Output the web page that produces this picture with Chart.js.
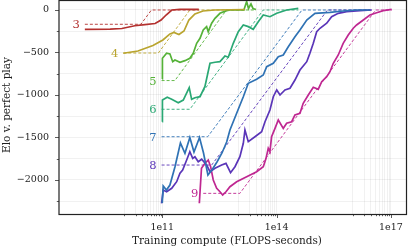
<!DOCTYPE html>
<html>
<head>
<meta charset="utf-8">
<script src="https://cdn.jsdelivr.net/npm/chart.js@4.4.1/dist/chart.umd.min.js"></script>
<style>
  html, body { margin: 0; padding: 0; background: #fff; }
  #wrap { width: 408px; height: 248px; position: relative; }
</style>
</head>
<body>
<div id="wrap"><canvas id="chart"></canvas></div>
<script>
const boardSizes = ['3', '4', '5', '6', '7', '8', '9'];
const colors = ['#b3302e', '#b9a42e', '#55b238', '#2aa874', '#2f72b4', '#5a35b8', '#bf2791'];

// training runs (compute in FLOPS-seconds, Elo v. perfect play)
const compute3 = [9.3e8, 4.3e9, 8.7e9, 1.9e10, 3.5e10, 6.5e10, 9.3e10, 1.26e11, 1.78e11, 2.9e11, 9.1e11];
const elo3 = [-227, -224, -218, -185, -173, -159, -118, -59, 0, 8, 8];
const compute4 = [9.5e9, 2.3e10, 5.7e10, 1.04e11, 1.59e11, 2.03e11, 2.74e11, 3.72e11, 5.0e11, 7.2e11, 1.17e12, 2.4e12, 1.48e13];
const elo4 = [-509, -482, -418, -353, -282, -265, -288, -247, -118, -47, -12, 0, 6];
const compute5 = [1.0e11, 1.01e11, 1.3e11, 1.59e11, 1.88e11, 2.15e11, 2.92e11, 3.94e11, 5.3e11, 6.5e11, 8.0e11, 9.8e11, 1.19e12,
  1.46e12, 1.61e12, 1.98e12, 2.42e12, 3.27e12, 4.9e12, 5.98e12, 1.39e13, 1.64e13, 1.83e13, 2.13e13, 2.4e13, 2.88e13];
const elo5 = [-812, -568, -509, -518, -608, -588, -615, -596, -568, -509, -392, -333, -235,
  -196, -255, -156, -98, -39, -8, 0, 0, 100, 18, 71, 18, 6];
const compute6 = [1.0e11, 1.01e11, 1.35e11, 1.77e11, 2.63e11, 3.56e11, 5.1e11, 5.9e11, 7.2e11, 9.8e11, 1.32e12, 1.79e12, 2.42e12,
  3.27e12, 4.43e12, 5.4e12, 7.3e12, 9.9e12, 1.34e13, 1.81e13, 2.44e13, 3.31e13, 4.48e13, 6.7e13, 1.01e14, 1.84e14, 3.72e14];
const elo6 = [-1314, -1059, -1027, -1051, -1091, -1059, -914, -1051, -1032, -1020, -899, -627, -615,
  -608, -541, -556, -392, -255, -176, -196, -227, -138, -59, -79, -39, 0, 20];
const compute7 = [1.0e11, 1.06e11, 1.29e11, 1.59e11, 2.15e11, 3.0e11, 3.94e11, 5.3e11, 6.8e11, 9.5e11, 1.21e12, 1.58e12, 2.01e12,
  2.73e12, 3.69e12, 4.9e12, 5.98e12, 8.97e12, 1.34e13, 1.81e13, 3.0e13, 4.48e13, 5.5e13, 8.2e13, 1.11e14, 1.5e14,
  2.03e14, 3.04e14, 4.11e14, 6.2e14, 1.02e15, 2.52e15, 5.6e15, 1.26e16, 2.82e16];
const elo7 = [-2271, -2071, -2118, -2059, -1847, -1565, -1686, -1500, -1671, -1500, -1682, -1941, -1882,
  -1788, -1682, -1553, -1412, -1215, -1020, -862, -815, -765, -667, -627, -549, -529,
  -432, -314, -235, -118, -39, -27, -12, 0, 0];
const compute8 = [9.6e10, 1.06e11, 1.3e11, 1.77e11, 2.39e11, 2.92e11, 3.43e11, 4.37e11, 5.3e11, 6.3e11, 7.2e11, 8.8e11, 1.08e12,
  1.46e12, 1.79e12, 2.42e12, 3.62e12, 4.7e12, 6.2e12, 8.1e12, 1.09e13, 1.34e13, 1.48e13, 1.81e13, 2.71e13, 4.06e13,
  4.97e13, 6.7e13, 8.2e13, 1.01e14, 1.23e14, 1.66e14, 2.25e14, 3.04e14, 4.11e14, 6.2e14, 7.5e14, 9.2e14, 1.13e15,
  1.38e15, 2.07e15, 2.79e15, 4.16e15, 6.9e15, 1.55e16, 3.13e16];
const elo8 = [-2274, -2118, -2138, -2098, -2020, -1921, -1882, -1765, -1667, -1745, -1726, -1785, -1756,
  -1824, -1902, -1863, -1824, -1804, -1914, -1844, -1726, -1568, -1412, -1549, -1491, -1432,
  -1314, -1176, -1020, -941, -1000, -941, -921, -824, -706, -608, -509, -392, -255,
  -215, -156, -79, -39, -20, -8, 0];
const compute9 = [9.4e11, 1.07e12, 1.32e12, 1.61e12, 1.86e12, 2.18e12, 2.68e12, 3.27e12, 3.85e12, 4.7e12, 5.98e12, 8.97e12, 1.64e13,
  3.0e13, 4.48e13, 5.3e13, 6.05e13, 6.7e13, 7.4e13, 9.1e13, 1.11e14, 1.5e14, 1.84e14, 2.49e14, 3.04e14, 4.11e14,
  5.0e14, 6.8e14, 9.2e14, 1.24e15, 1.53e15, 2.07e15, 2.52e15, 3.08e15, 4.16e15, 5.6e15, 7.6e15, 1.03e16, 1.26e16,
  1.89e16, 2.82e16, 4.24e16, 6.3e16, 1.05e17];
const elo9 = [-2274, -1862, -1804, -1765, -1843, -2000, -2098, -2138, -2177, -2138, -2079, -2020, -1961,
  -1902, -1843, -1745, -1627, -1667, -1491, -1392, -1294, -1392, -1333, -1314, -1235, -1215,
  -1098, -1000, -909, -933, -843, -785, -726, -627, -529, -392, -294, -215, -176,
  -118, -59, -32, -8, 8];

// fitted frontiers (dashed)
const fitCompute3 = [9.3e8, 2.75e10, 5.2e10, 9.1e11];
const fitElo3 = [-168, -168, 0, 0];
const fitCompute4 = [9.5e9, 7.9e10, 5.3e11, 1.48e13];
const fitElo4 = [-506, -506, 0, 0];
const fitCompute5 = [9.6e10, 2.15e11, 4.84e12, 2.88e13];
const fitElo5 = [-830, -830, 0, 0];
const fitCompute6 = [9.6e10, 5.3e11, 4.48e13, 3.72e14];
const fitElo6 = [-1168, -1168, 0, 0];
const fitCompute7 = [9.6e10, 1.56e12, 4.65e14, 2.82e16];
const fitElo7 = [-1491, -1491, 0, 0];
const fitCompute8 = [9.6e10, 1.98e12, 2.17e15, 3.13e16];
const fitElo8 = [-1824, -1824, 0, 0];
const fitCompute9 = [1.19e12, 1.09e13, 3.98e16, 1.05e17];
const fitElo9 = [-2157, -2157, 0, 0];

const yTicks = [-2250, -2000, -1750, -1500, -1250, -1000, -750, -500, -250, 0];
const xMajorTicks = [1e11, 1e14, 1e17];
const xMajorLabels = ['1e11', '1e14', '1e17'];
const xMinorTicks = [1e10, 2e10, 3e10, 4e10, 5e10, 6e10, 7e10, 8e10, 9e10,
  1e13, 2e13, 3e13, 4e13, 5e13, 6e13, 7e13, 8e13, 9e13,
  1e16, 2e16, 3e16, 4e16, 5e16, 6e16, 7e16, 8e16, 9e16];

const runs = [
  [compute3, elo3, fitCompute3, fitElo3],
  [compute4, elo4, fitCompute4, fitElo4],
  [compute5, elo5, fitCompute5, fitElo5],
  [compute6, elo6, fitCompute6, fitElo6],
  [compute7, elo7, fitCompute7, fitElo7],
  [compute8, elo8, fitCompute8, fitElo8],
  [compute9, elo9, fitCompute9, fitElo9]
];

const pts = (xs, ys) => xs.map((x, i) => ({ x: x, y: ys[i] }));

const datasets = [];
runs.forEach((r, i) => {
  datasets.push({
    label: boardSizes[i],
    data: pts(r[0], r[1]),
    borderColor: colors[i],
    borderWidth: 1.7,
    pointRadius: 0,
    tension: 0
  });
});
runs.forEach((r, i) => {
  datasets.push({
    label: boardSizes[i] + ' fit',
    data: pts(r[2], r[3]),
    borderColor: colors[i],
    borderWidth: 0.9,
    borderDash: [3, 2],
    pointRadius: 0,
    tension: 0
  });
});

const serif = 'DejaVu Serif';
const minus = (v) => (v < 0 ? '\u2212' + Math.abs(v) : String(v));

const decor = {
  id: 'decor',
  afterDraw(chart) {
    const ctx = chart.ctx;
    const a = chart.chartArea;
    const xs = chart.scales.x;
    const ys = chart.scales.y;
    ctx.save();
    ctx.strokeStyle = '#333';
    ctx.lineWidth = 0.8;
    // tick marks
    ctx.beginPath();
    xMinorTicks.forEach((v) => {
      const p = Math.round(xs.getPixelForValue(v)) + 0.5;
      ctx.moveTo(p, a.bottom); ctx.lineTo(p, a.bottom + 2.2);
    });
    xMajorTicks.forEach((v) => {
      const p = Math.round(xs.getPixelForValue(v)) + 0.5;
      ctx.moveTo(p, a.bottom); ctx.lineTo(p, a.bottom + 4);
    });
    yTicks.forEach((v) => {
      const p = Math.round(ys.getPixelForValue(v)) + 0.5;
      const len = v % 500 === 0 ? 4 : 2.2;
      ctx.moveTo(a.left, p); ctx.lineTo(a.left - len, p);
    });
    ctx.stroke();
    // frame
    ctx.lineWidth = 1.2;
    ctx.strokeStyle = '#222';
    ctx.strokeRect(a.left, a.top + 0.5, a.right - a.left - 0.5, a.bottom - a.top);
    // board size labels
    ctx.font = '11.5px "' + serif + '"';
    ctx.textAlign = 'right';
    ctx.textBaseline = 'middle';
    runs.forEach((r, i) => {
      ctx.fillStyle = colors[i];
      ctx.fillText(boardSizes[i], xs.getPixelForValue(r[2][0]) - 5, ys.getPixelForValue(r[3][0]) + 1);
    });
    // axis titles
    ctx.fillStyle = '#222';
    ctx.font = '10.5px "' + serif + '"';
    ctx.textAlign = 'center';
    ctx.fillText('Training compute (FLOPS-seconds)', (a.left + a.right) / 2 - 6, 241);
    ctx.translate(7, (a.top + a.bottom) / 2 - 2);
    ctx.rotate(-Math.PI / 2);
    ctx.fillText('Elo v. perfect play', 0, 0);
    ctx.restore();
  }
};

new Chart(document.getElementById('chart'), {
  type: 'line',
  data: { datasets: datasets },
  options: {
    responsive: true,
    maintainAspectRatio: false,
    animation: false,
    layout: { padding: { top: 0, right: 1, left: 0, bottom: 0 } },
    plugins: {
      legend: { display: false },
      tooltip: { enabled: false }
    },
    scales: {
      x: {
        type: 'logarithmic',
        min: 1.95e8,
        max: 2.65e17,
        afterBuildTicks: (s) => {
          s.ticks = xMinorTicks.concat(xMajorTicks).sort((p, q) => p - q).map((v) => ({ value: v }));
        },
        afterFit: (s) => { s.height = 34; s.paddingLeft = 0; s.paddingRight = 0; },
        ticks: {
          autoSkip: false,
          maxRotation: 0,
          padding: 8,
          color: '#222',
          font: { family: serif, size: 9.5 },
          callback: (v) => {
            const k = xMajorTicks.indexOf(v);
            return k >= 0 ? xMajorLabels[k] : '';
          }
        },
        grid: { color: 'rgba(0,0,0,0.07)', lineWidth: 0.8, drawTicks: false },
        border: { display: false }
      },
      y: {
        type: 'linear',
        min: -2400,
        max: 117.6,
        afterBuildTicks: (s) => {
          s.ticks = yTicks.map((v) => ({ value: v }));
        },
        afterFit: (s) => { s.width = 59; s.paddingTop = 0; s.paddingBottom = 0; },
        ticks: {
          padding: 10,
          color: '#222',
          font: { family: serif, size: 9.5 },
          callback: (v) => (v % 500 === 0 ? minus(v) : '')
        },
        grid: { color: 'rgba(0,0,0,0.07)', lineWidth: 0.8, drawTicks: false },
        border: { display: false }
      }
    }
  },
  plugins: [decor]
});
</script>
</body>
</html>
